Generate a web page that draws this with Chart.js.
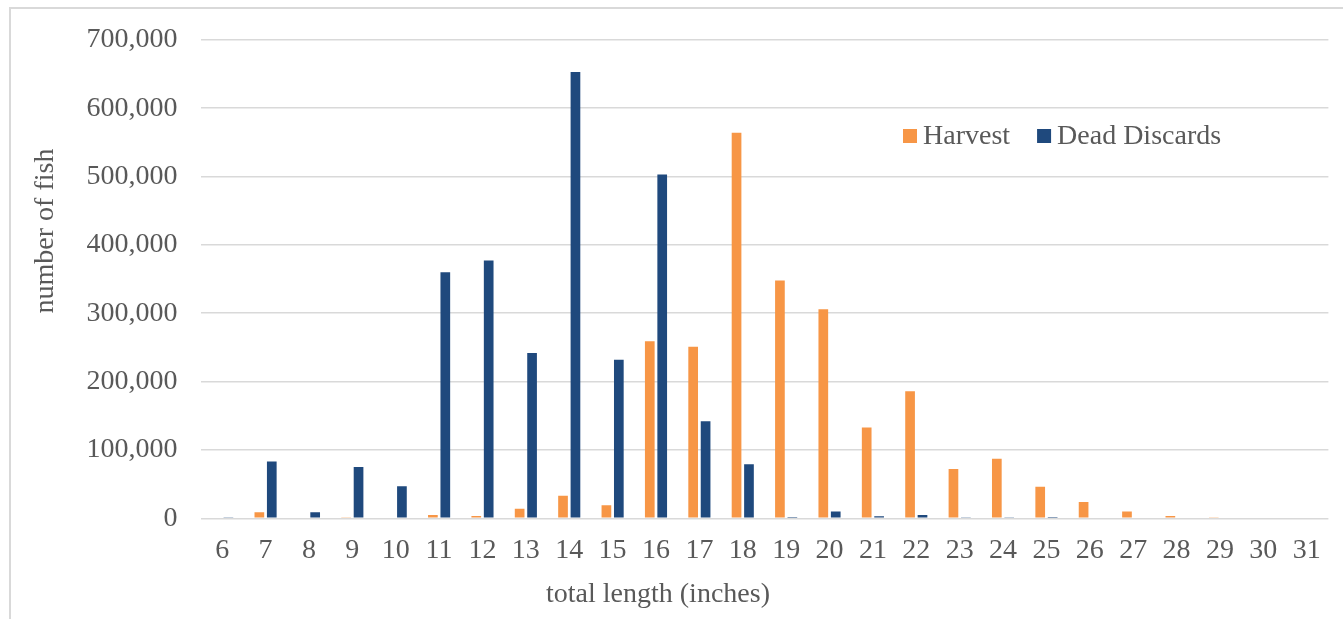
<!DOCTYPE html>
<html>
<head>
<meta charset="utf-8">
<script src="https://cdn.jsdelivr.net/npm/chart.js@4/dist/chart.umd.min.js"></script>
<style>
  html, body { margin: 0; padding: 0; background: #fff; overflow: hidden; }
  #frame { position: absolute; left: 9px; top: 7px; width: 1400px; height: 700px; border: 2px solid #d9d9d9; }
  #wrap { position: absolute; left: 0; top: 0; width: 1343px; height: 619px; }
</style>
</head>
<body>
<div id="frame"></div>
<div id="wrap"><canvas id="fish_chart"></canvas></div>
<script>
// total length (inches)
const lengths = ['6','7','8','9','10','11','12','13','14','15','16','17','18','19','20','21','22','23','24','25','26','27','28','29','30','31'];

const harvest = [0, 9000, 0, 1500, 0, 5000, 3500, 14000, 33000, 19000, 259000, 251000, 564000, 348000, 306000, 133000, 186000, 72000, 87000, 46000, 24000, 10000, 3500, 1500, 0, 0];

const dead_discards = [1500, 83000, 9000, 75000, 47000, 360000, 377000, 242000, 653000, 232000, 503000, 142000, 79000, 2000, 10000, 3000, 5000, 1500, 1500, 2000, 0, 0, 0, 0, 0, 0];

const y_ticks = [0, 100000, 200000, 300000, 400000, 500000, 600000, 700000];

const FONT = "'Liberation Serif', 'Times New Roman', serif";
const TEXT_COLOR = '#595959';

// axis titles + legend drawn inside the plot like the excel chart
var extras = {
    id: 'extras',
    afterDraw: function(chart) {
        var ctx = chart.ctx;
        ctx.save();
        ctx.fillStyle = TEXT_COLOR;
        ctx.font = '28px ' + FONT;
        ctx.textBaseline = 'middle';

        // x title
        ctx.textAlign = 'center';
        ctx.fillText('total length (inches)', 658, 595);

        // y title
        ctx.save();
        ctx.translate(46, 231);
        ctx.rotate(-Math.PI / 2);
        ctx.fillText('number of fish', 0, 0);
        ctx.restore();

        // legend
        ctx.textAlign = 'left';
        var x = 903;
        var y = 136;
        chart.data.datasets.forEach(function(ds) {
            ctx.fillStyle = ds.backgroundColor;
            ctx.fillRect(x, y - 7, 14, 14);
            ctx.fillStyle = TEXT_COLOR;
            ctx.fillText(ds.label, x + 20, y + 1);
            x += 20 + ctx.measureText(ds.label).width + 27;
        });
        ctx.restore();
    }
};

var ctx = document.getElementById('fish_chart').getContext('2d');

var data = {
    labels: lengths,
    datasets: [{
        label: 'Harvest',
        data: harvest,
        backgroundColor: '#F79646',
        categoryPercentage: 0.573,
        barPercentage: 0.78
    }, {
        label: 'Dead Discards',
        data: dead_discards,
        backgroundColor: '#1F497D',
        categoryPercentage: 0.573,
        barPercentage: 0.78
    }]
};

var options = {
    responsive: true,
    maintainAspectRatio: false,
    animation: false,
    layout: {
        padding: { top: 39, right: 14.6, left: 0, bottom: 0 }
    },
    plugins: {
        legend: { display: false },
        tooltip: { enabled: false }
    },
    scales: {
        x: {
            grid: { display: false },
            border: { display: false },
            ticks: {
                color: TEXT_COLOR,
                font: { family: FONT, size: 28 },
                padding: 8,
                maxRotation: 0,
                autoSkip: false
            },
            afterFit: function(scale) { scale.height = 100.7; }
        },
        y: {
            min: 0,
            max: 700000,
            afterBuildTicks: function(scale) {
                scale.ticks = y_ticks.map(function(v) { return { value: v }; });
            },
            grid: { color: '#d9d9d9', lineWidth: 1.5, drawTicks: false },
            border: { display: false },
            ticks: {
                color: TEXT_COLOR,
                font: { family: FONT, size: 28 },
                padding: 23,
                callback: function(v) { return v.toLocaleString('en-US'); }
            },
            afterFit: function(scale) { scale.width = 200.5; }
        }
    }
};

var fishChart = new Chart(ctx, {
    type: 'bar',
    data: data,
    options: options,
    plugins: [extras]
});
</script>
</body>
</html>
